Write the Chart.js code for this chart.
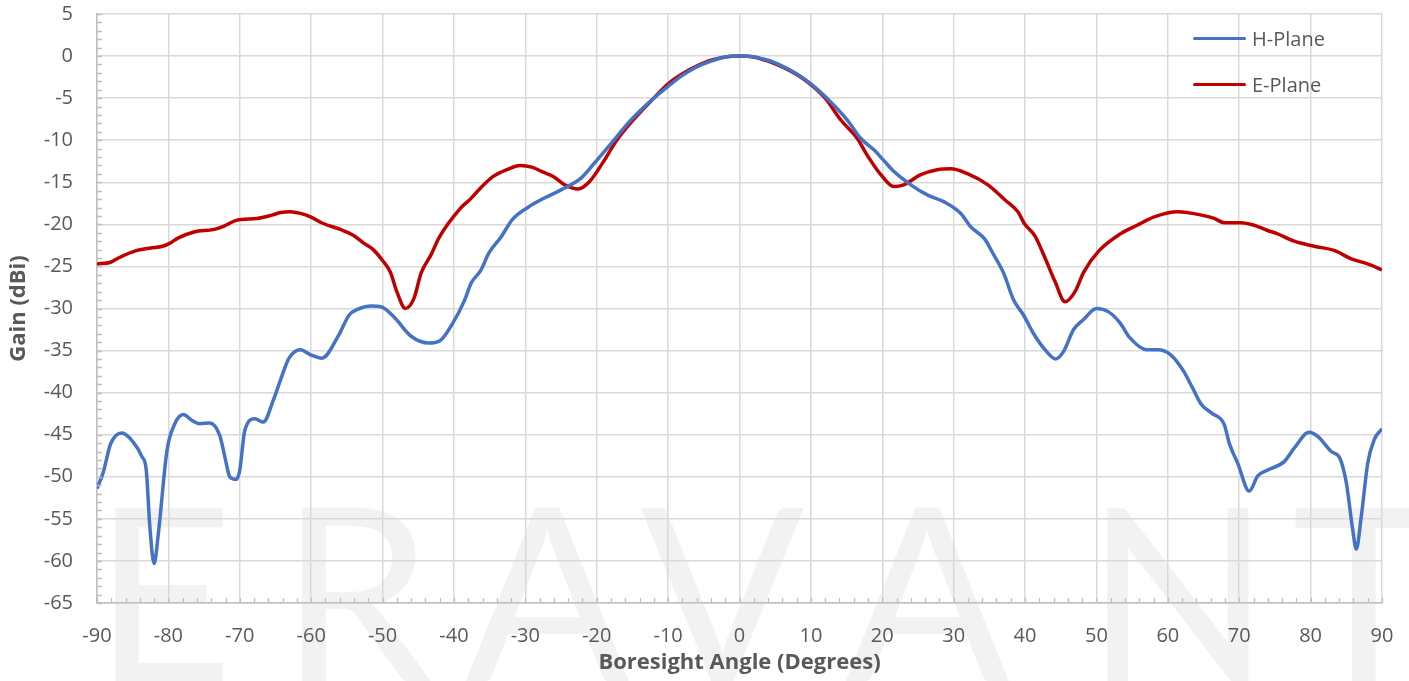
<!DOCTYPE html>
<html>
<head>
<meta charset="utf-8">
<script src="https://cdn.jsdelivr.net/npm/chart.js@4.4.0/dist/chart.umd.min.js"></script>
<style>
  html, body { margin: 0; padding: 0; background: #ffffff; }
  #wrap { position: relative; width: 1409px; height: 681px; }
  #legend { position: absolute; left: 1193px; top: 15px; font-family: 'Open Sans', sans-serif; font-size: 20px; color: #595959; }
  .item { display: flex; align-items: center; height: 46px; }
  .swatch { width: 53px; height: 3px; border-radius: 2px; margin-right: 6px; }
</style>
</head>
<body>
<div id="wrap">
  <canvas id="chart"></canvas>
  <div id="legend"></div>
</div>
<script>
// Radiation pattern
const hAngle = [-90, -89.1, -88.1, -86.5, -84.9, -83.7, -83.1, -82.6, -82.0, -81.4, -80.2, -79.1, -77.9, -76.7, -75.6, -74.2,
  -72.8, -72.1, -71.4, -70.5, -70.0, -69.3, -67.9, -66.7, -65.3, -64.3, -63.1, -61.5, -60.1, -58.5, -56.1, -54.7, -53.5,
  -51.6, -50.2, -48.3, -46.0, -43.5, -41.9, -40.2, -38.5, -37.6, -36.2, -35.1, -33.4, -31.8, -29.5, -27.4, -25.0, -22.2,
  -20.4, -18.0, -15.2, -12, -10, -8, -6, -4, -2, 0, 2, 4, 6, 8, 10, 12, 15.1, 17.0, 18.9, 20.2, 21.6, 24.0, 26.3, 28.6,
  31.0, 32.4, 34.3, 35.6, 37.0, 38.4, 39.8, 41.2, 43.0, 44.3, 45.4, 46.8, 48.2, 50.0, 51.7, 53.3, 54.7, 57.0, 58.6, 60.4,
  62.1, 63.5, 64.7, 66.1, 67.9, 68.6, 69.8, 71.4, 72.6, 74.0, 76.3, 77.7, 79.8, 81.0, 82.9, 84.1, 85.0, 85.9, 86.4, 87.1,
  88.0, 88.9, 90];
const hGain = [-51.4, -49.4, -46.1, -44.8, -45.9, -47.6, -49.2, -55.9, -60.3, -56.7, -46.9, -43.7, -42.6, -43.3, -43.7, -43.6,
  -45.1, -47.6, -50.0, -50.3, -49.2, -44.5, -43.1, -43.5, -40.9, -38.5, -35.9, -34.9, -35.5, -35.9, -33.1, -30.8, -30.1,
  -29.7, -29.8, -31.1, -33.3, -34.1, -33.8, -31.8, -29.0, -27.0, -25.4, -23.4, -21.5, -19.4, -17.9, -16.9, -15.9, -14.5,
  -12.8, -10.4, -7.6, -5.0, -3.6, -2.3, -1.3, -0.6, -0.1, 0, -0.1, -0.5, -1.2, -2.1, -3.3, -4.8, -7.6, -9.8, -11.2, -12.4,
  -13.7, -15.3, -16.5, -17.3, -18.7, -20.3, -21.7, -23.6, -25.8, -29.0, -30.8, -33.0, -35.1, -36.0, -35.1, -32.5, -31.3,
  -30.0, -30.4, -31.7, -33.5, -34.9, -34.9, -35.5, -37.3, -39.5, -41.4, -42.4, -43.8, -46.0, -48.4, -51.7, -49.9, -49.2,
  -48.2, -46.6, -44.7, -45.2, -47.0, -47.8, -50.7, -56.3, -58.6, -54.7, -48.4, -45.6, -44.3];

const eAngle = [-90, -88.1, -87, -84.4, -82.5, -80.8, -79.7, -78.6, -76.4, -73.6, -72.2, -70.4, -67.6, -65.5, -64.3, -62.9,
  -61.5, -60.1, -58.3, -55.9, -54.1, -52.7, -51.3, -50.0, -48.9, -48.0, -46.8, -45.6, -44.6, -43.2, -42.1, -39.1, -37.7,
  -36.3, -34.5, -32.6, -30.7, -29.1, -27.5, -26.1, -24.5, -22.6, -21.0, -19.1, -17.2, -14.9, -12, -10, -8, -6, -4, -2, 0,
  2, 4, 6, 8, 10, 12, 14.2, 16.5, 17.9, 19.8, 21.6, 23.0, 25.4, 27.7, 29.6, 32.0, 34.8, 37.2, 39.0, 39.9, 41.4, 42.8, 44.2,
  45.6, 47.0, 48.2, 50.4, 53.4, 55.7, 58.1, 61.4, 64.7, 66.5, 67.9, 70.2, 72.1, 73.9, 75.3, 77.7, 80.5, 83.3, 85.7, 88.0, 90];
const eGain = [-24.7, -24.5, -24.0, -23.1, -22.8, -22.6, -22.2, -21.6, -20.9, -20.6, -20.2, -19.5, -19.3, -18.9, -18.6, -18.5,
  -18.7, -19.1, -19.9, -20.6, -21.3, -22.2, -23.0, -24.3, -25.7, -28.0, -30.0, -28.8, -25.8, -23.6, -21.6, -18.1, -17.0,
  -15.7, -14.3, -13.5, -13.0, -13.2, -13.8, -14.3, -15.3, -15.8, -14.9, -12.6, -10.0, -7.6, -5.0, -3.3, -2.1, -1.2, -0.5,
  -0.1, 0, -0.1, -0.6, -1.3, -2.2, -3.4, -5.0, -7.6, -9.8, -11.8, -14.1, -15.5, -15.3, -14.1, -13.5, -13.4, -14.0, -15.3,
  -17.1, -18.5, -19.9, -21.4, -24.0, -26.8, -29.2, -28.0, -25.7, -23.1, -21.1, -20.1, -19.1, -18.5, -18.9, -19.3, -19.8,
  -19.8, -20.1, -20.7, -21.1, -22.0, -22.6, -23.1, -24.1, -24.7, -25.4];

const seriesNames = ['H-Plane', 'E-Plane'];
const seriesColors = ['#4472C4', '#C00000'];
const watermark = 'ERAVANT';

const toPoints = (xs, ys) => xs.map((x, i) => ({ x: x, y: ys[i] }));

const textColor = '#595959';
const gridColor = '#d9d9d9';
const axisColor = '#bfbfbf';
const baseFont = "'Open Sans', sans-serif";

// faint brand text behind the plot
const watermarkPlugin = {
  id: 'watermark',
  beforeDraw(chart) {
    const ctx = chart.ctx;
    const xs = [93, 280, 465, 640, 845, 1085, 1292];
    ctx.save();
    ctx.fillStyle = '#f2f2f2';
    ctx.font = "400 243px Lato";
    ctx.textBaseline = 'alphabetic';
    watermark.split('').forEach((ch, i) => ctx.fillText(ch, xs[i], 682));
    ctx.restore();
  }
};

// small inward ticks along both axes, like the spreadsheet chart
const minorTicks = {
  id: 'minorTicks',
  afterDraw(chart) {
    const { ctx, scales: { x, y } } = chart;
    ctx.save();
    ctx.strokeStyle = axisColor;
    ctx.lineWidth = 1.3;
    ctx.beginPath();
    for (let v = -65; v <= 5; v += 1) {
      const py = Math.round(y.getPixelForValue(v)) + 0.5;
      ctx.moveTo(x.left, py);
      ctx.lineTo(x.left + 5, py);
    }
    for (let a = -90; a <= 90; a += 2) {
      const px = Math.round(x.getPixelForValue(a)) + 0.5;
      ctx.moveTo(px, y.bottom);
      ctx.lineTo(px, y.bottom - 5);
    }
    ctx.stroke();
    ctx.restore();
  }
};

const datasets = [toPoints(hAngle, hGain), toPoints(eAngle, eGain)].map((pts, i) => ({
  label: seriesNames[i],
  data: pts,
  borderColor: seriesColors[i],
  backgroundColor: seriesColors[i],
  borderWidth: 3.5,
  pointRadius: 0,
  cubicInterpolationMode: 'monotone',
  fill: false
}));

new Chart(document.getElementById('chart'), {
  type: 'line',
  data: { datasets },
  options: {
    responsive: true,
    maintainAspectRatio: false,
    animation: false,
    layout: { padding: { top: 14, right: 27, left: 0, bottom: 0 } },
    plugins: {
      legend: { display: false },
      tooltip: { enabled: false }
    },
    scales: {
      x: {
        type: 'linear',
        min: -90,
        max: 90,
        afterFit: s => { s.height = 78; s.paddingLeft = 0; s.paddingRight = 0; },
        ticks: { stepSize: 10, color: textColor, font: { family: baseFont, size: 20 }, padding: 21, maxRotation: 0 },
        grid: { color: gridColor, lineWidth: 1.5, drawTicks: false },
        border: { color: axisColor, width: 1.5 },
        title: { display: true, text: 'Boresight Angle (Degrees)', color: textColor,
                 font: { family: baseFont, size: 22, weight: 'bold' }, padding: { top: 0, bottom: 5 } }
      },
      y: {
        min: -65,
        max: 5,
        afterFit: s => { s.width = 97; s.paddingTop = 0; s.paddingBottom = 0; },
        ticks: { stepSize: 5, color: textColor, font: { family: baseFont, size: 20 }, padding: 24 },
        grid: { color: gridColor, lineWidth: 1.5, drawTicks: false },
        border: { color: axisColor, width: 1.5 },
        title: { display: true, text: 'Gain (dBi)', color: textColor,
                 font: { family: baseFont, size: 22, weight: 'bold' }, padding: { top: 6, bottom: 0 } }
      }
    }
  },
  plugins: [watermarkPlugin, minorTicks]
});

// legend inside the plot, top right
const legend = document.getElementById('legend');
datasets.forEach(ds => {
  const row = document.createElement('div');
  row.className = 'item';
  row.innerHTML = `<span class="swatch" style="background:${ds.borderColor}"></span><span>${ds.label}</span>`;
  legend.appendChild(row);
});
</script>
</body>
</html>
